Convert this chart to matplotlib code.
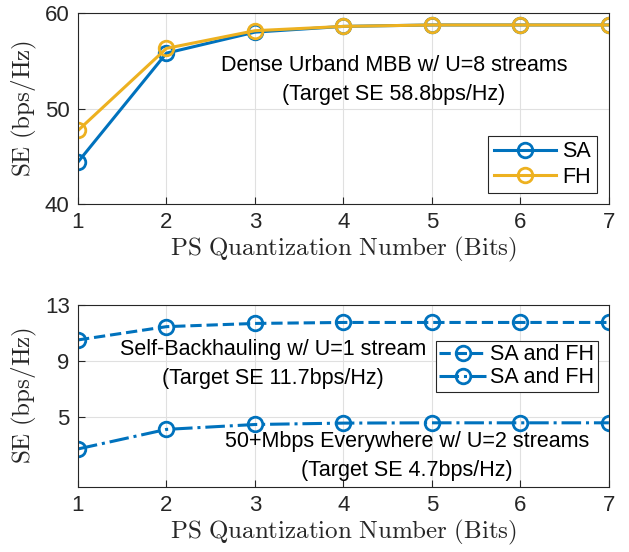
import numpy as np
import matplotlib.pyplot as plt

plt.rcParams['font.family'] = ['Liberation Sans', 'DejaVu Sans']
plt.rcParams['mathtext.fontset'] = 'cm'

# Data
bits = [1, 2, 3, 4, 5, 6, 7]
se_sa = [44.4, 55.8, 58.0, 58.6, 58.75, 58.75, 58.75]
se_fh = [47.7, 56.3, 58.15, 58.6, 58.75, 58.75, 58.75]
se_backhaul = [10.5, 11.45, 11.68, 11.75, 11.75, 11.75, 11.75]
se_everywhere = [2.7, 4.1, 4.45, 4.55, 4.57, 4.57, 4.57]

blue = '#0072BD'
yellow = '#EDB120'
axcol = '#262626'

fig = plt.figure(figsize=(6.29, 5.52), dpi=100)
ax1 = fig.add_axes([0.124, 0.6304, 0.844, 0.346])
ax2 = fig.add_axes([0.124, 0.1183, 0.844, 0.3292])

mk = dict(marker='o', markersize=10.5, markerfacecolor='none', markeredgewidth=2, linewidth=2.2)

ax1.plot(bits, se_sa, color=blue, label='SA', **mk)
ax1.plot(bits, se_fh, color=yellow, label='FH', **mk)
ax1.set_ylim(40, 60)
ax1.set_yticks([40, 50, 60])
leg1 = ax1.legend(loc='lower right', bbox_to_anchor=(0.977, 0.058), fontsize=15.5,
                  fancybox=False, edgecolor=axcol, framealpha=1, handlelength=2.9,
                  borderpad=0.25, labelspacing=0.2, handletextpad=0.3, borderaxespad=0)
leg1.get_frame().set_linewidth(0.8)

ax2.plot(bits, se_backhaul, color=blue, linestyle='--', label='SA and FH', **mk)
ax2.plot(bits, se_everywhere, color=blue, linestyle='-.', label='SA and FH', **mk)
ax2.set_ylim(0, 13)
ax2.set_yticks([5, 9, 13])
leg2 = ax2.legend(loc='upper right', bbox_to_anchor=(0.979, 0.802), fontsize=15.5,
                  fancybox=False, edgecolor=axcol, framealpha=1, handlelength=2.2,
                  borderpad=0.15, labelspacing=0.1, handletextpad=0.2, borderaxespad=0)
leg2.get_frame().set_linewidth(0.8)

for ax in (ax1, ax2):
    ax.set_xlim(1, 7)
    ax.set_xticks(bits)
    ax.grid(True, color='#e0e0e0', linewidth=0.8)
    ax.set_axisbelow(True)
    ax.tick_params(direction='in', labelsize=16, colors=axcol, length=5, pad=6)
    for s in ax.spines.values():
        s.set_color(axcol)
        s.set_linewidth(0.8)
    ax.set_xlabel(r'$\mathrm{PS\ Quantization\ Number\ (Bits)}$', fontsize=18, color=axcol, labelpad=1)
    ax.set_ylabel(r'$\mathrm{SE\ (bps/Hz)}$', fontsize=18, color=axcol, labelpad=4)

fig.text(394 / 629, 1 - 80 / 552, 'Dense Urband MBB w/ U=8 streams\n(Target SE 58.8bps/Hz)',
         fontsize=15.5, ha='center', va='center', linespacing=1.5)
fig.text(273 / 629, 1 - 364 / 552, 'Self-Backhauling w/ U=1 stream\n(Target SE 11.7bps/Hz)',
         fontsize=15.5, ha='center', va='center', linespacing=1.5)
fig.text(407 / 629, 1 - 456 / 552, '50+Mbps Everywhere w/ U=2 streams\n(Target SE 4.7bps/Hz)',
         fontsize=15.5, ha='center', va='center', linespacing=1.5)

plt.savefig('out.png', dpi=100)
